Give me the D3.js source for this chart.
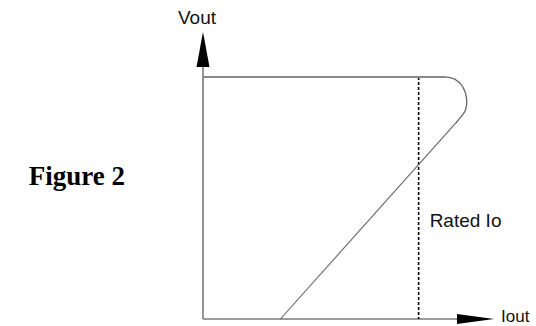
<!DOCTYPE html>
<html>
<head>
<meta charset="utf-8">
<script src="https://cdn.jsdelivr.net/npm/d3@7"></script>
<style>
  html, body { margin: 0; padding: 0; background: #ffffff; }
  svg { display: block; }
</style>
</head>
<body>
<svg id="chart" width="536" height="326"></svg>
<script>
// ---- data (schematic foldback V-I curve, Iout vs Vout in arbitrary %) ----
const axisLabels = ["Vout", "Iout"];
const figureTitle = "Figure 2";
const ratedLabel = "Rated Io";
const ratedIo = 74.1;                // Iout position of rated current (dotted line)
const topCurveIout = [0, 83.4];      // flat regulated output
const topCurveVout = [84.3, 84.3];
const kneeIout = [83.4, 86.5, 89.2, 90.6, 90.2, 88.6, 86.9];
const kneeVout = [84.3, 83.6, 81.0, 76.5, 72.8, 70.4, 68.3];
const foldIout = [86.9, 26.6];       // foldback line down to short-circuit current
const foldVout = [68.3, 0];

// ---- scales ----
const svg = d3.select("#chart");
const x = d3.scaleLinear().domain([0, 100]).range([203, 494]);
const y = d3.scaleLinear().domain([0, 100]).range([319, 32]);

const axisColor = "#7a7a7a";

// axes
svg.append("line")
  .attr("x1", x(0)).attr("y1", y(0)).attr("x2", x(0)).attr("y2", y(90))
  .attr("stroke", axisColor).attr("stroke-width", 1.6);
svg.append("line")
  .attr("x1", x(0)).attr("y1", y(0)).attr("x2", x(90)).attr("y2", y(0))
  .attr("stroke", axisColor).attr("stroke-width", 1.6);

// arrowheads
const yt = [x(0), y(100)];
svg.append("path")
  .attr("d", `M${yt[0]},${yt[1]} L${yt[0] + 6.5},${yt[1] + 35} L${yt[0] - 6.5},${yt[1] + 35} Z`)
  .attr("fill", "#000");
const xt = [x(100), y(0)];
svg.append("path")
  .attr("d", `M${xt[0]},${xt[1]} L${xt[0] - 37},${xt[1] + 5} L${xt[0] - 37},${xt[1] - 5} Z`)
  .attr("fill", "#000");

// rated Io dotted line
svg.append("line")
  .attr("x1", x(ratedIo)).attr("y1", y(topCurveVout[0])).attr("x2", x(ratedIo)).attr("y2", y(0))
  .attr("stroke", "#000").attr("stroke-width", 1.6).attr("stroke-dasharray", "3,2");

// curve
const line = d3.line().x(d => x(d[0])).y(d => y(d[1]));
svg.append("path")
  .attr("d", line(topCurveIout.map((v, i) => [v, topCurveVout[i]])))
  .attr("fill", "none").attr("stroke", "#888").attr("stroke-width", 2);
svg.append("path")
  .attr("d", line.curve(d3.curveCatmullRom)(kneeIout.map((v, i) => [v, kneeVout[i]])))
  .attr("fill", "none").attr("stroke", "#666").attr("stroke-width", 1.3);
svg.append("path")
  .attr("d", d3.line().x(d => x(d[0])).y(d => y(d[1]))(foldIout.map((v, i) => [v, foldVout[i]])))
  .attr("fill", "none").attr("stroke", "#666").attr("stroke-width", 1.1);

// texts
svg.append("text")
  .attr("x", x(0) - 25).attr("y", 24)
  .attr("font-family", "Liberation Sans, Arial, sans-serif").attr("font-size", 19)
  .attr("fill", "#111").text(axisLabels[0]);
svg.append("text")
  .attr("x", 501).attr("y", y(0) + 3)
  .attr("font-family", "Liberation Sans, Arial, sans-serif").attr("font-size", 17)
  .attr("fill", "#111").text(axisLabels[1]);
svg.append("text")
  .attr("x", x(ratedIo) + 11).attr("y", 227)
  .attr("font-family", "Liberation Sans, Arial, sans-serif").attr("font-size", 19)
  .attr("fill", "#111").text(ratedLabel);
svg.append("text")
  .attr("x", 125).attr("y", 185).attr("text-anchor", "end")
  .attr("font-family", "Liberation Serif, Times New Roman, serif").attr("font-size", 27)
  .attr("font-weight", "bold").attr("fill", "#000").text(figureTitle);
</script>
</body>
</html>
